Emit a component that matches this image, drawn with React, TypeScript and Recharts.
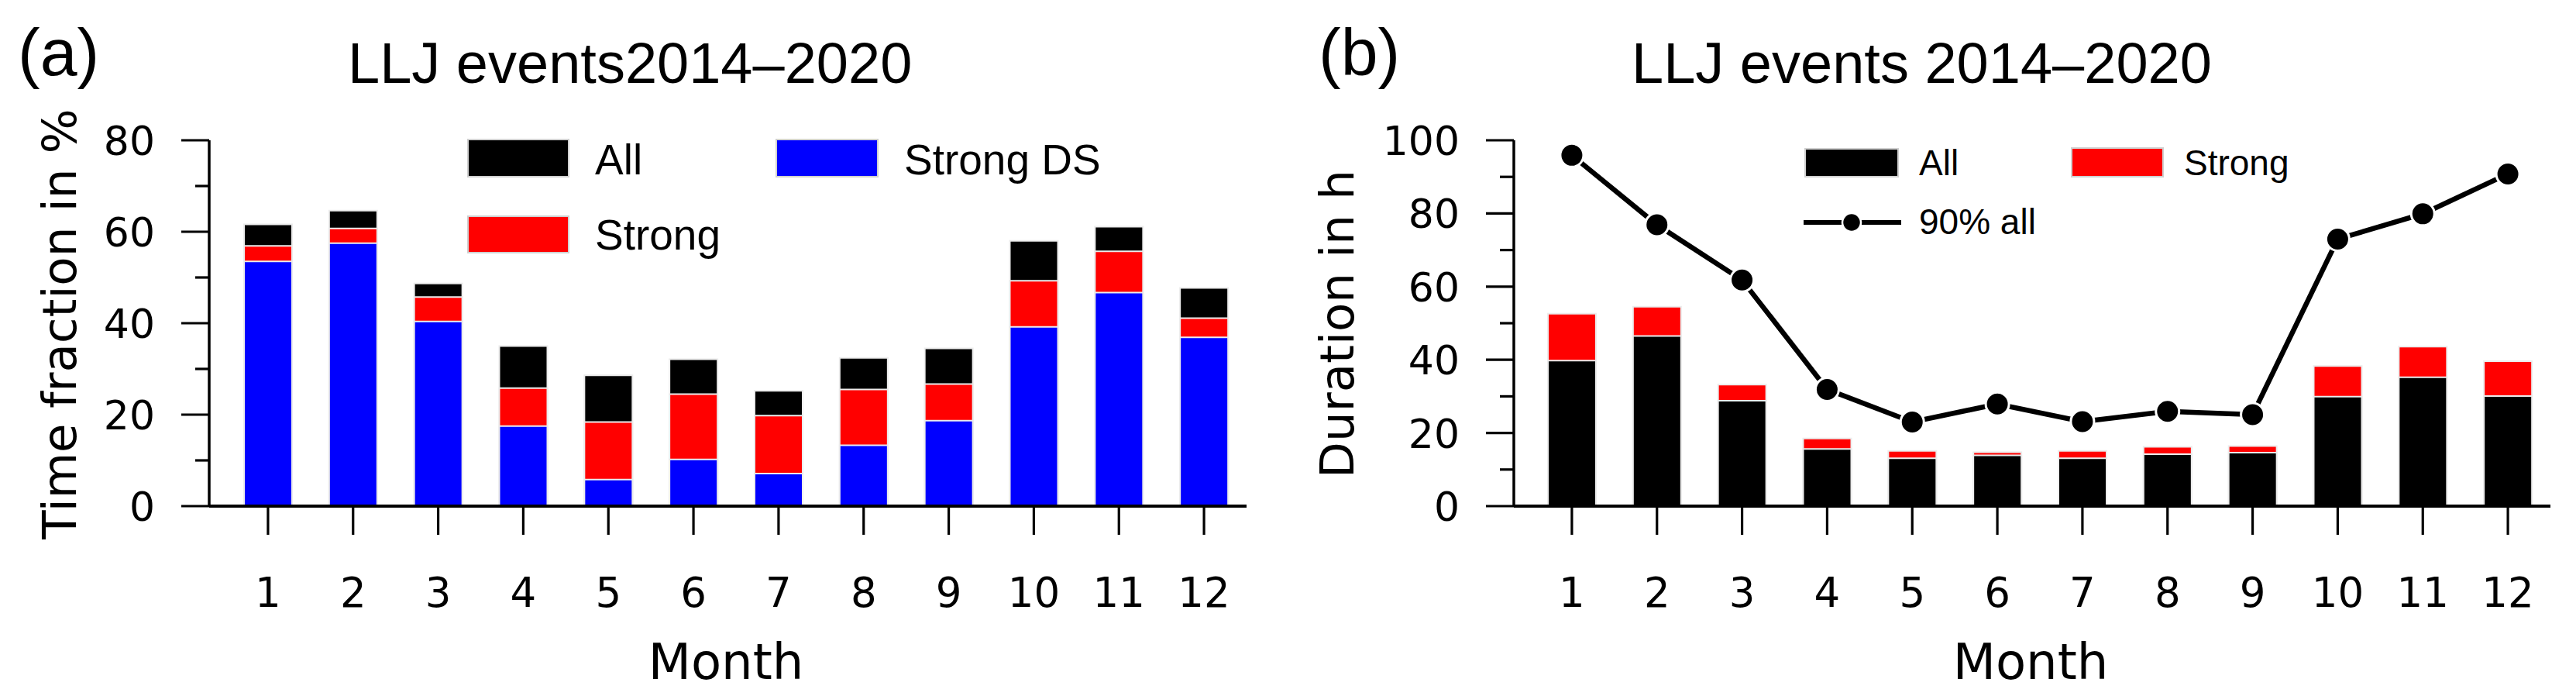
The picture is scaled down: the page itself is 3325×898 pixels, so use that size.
import React from 'react';
import { BarChart, ComposedChart, Bar, Line, XAxis, YAxis, Customized } from 'recharts';

// ---------- data ----------
const months = ['1', '2', '3', '4', '5', '6', '7', '8', '9', '10', '11', '12'];

// Panel (a): time fraction in %
const fracAll = [61.6, 64.6, 48.7, 35.0, 28.6, 32.1, 25.2, 32.4, 34.5, 58.0, 61.1, 47.7];
const fracStrong = [56.9, 60.7, 45.7, 25.8, 18.4, 24.5, 19.8, 25.5, 26.7, 49.3, 55.7, 41.1];
const fracStrongDS = [53.5, 57.5, 40.4, 17.5, 5.8, 10.2, 7.1, 13.3, 18.7, 39.2, 46.7, 36.9];

// Panel (b): duration in h
const durAll = [39.8, 46.5, 28.8, 15.6, 13.1, 13.9, 13.1, 14.2, 14.6, 29.9, 35.2, 30.1];
const durStrong = [52.6, 54.5, 33.2, 18.5, 15.1, 14.7, 15.1, 16.2, 16.4, 38.3, 43.6, 39.6];
const dur90All = [95.9, 76.9, 61.8, 31.9, 23.0, 27.9, 23.1, 25.9, 25.0, 73.0, 79.9, 90.8];

const yTicksA = [0, 10, 20, 30, 40, 50, 60, 70, 80];
const yTicksB = [0, 10, 20, 30, 40, 50, 60, 70, 80, 90, 100];

const dataA = months.map((m, i) => ({
  month: m,
  all: fracAll[i],
  strong: fracStrong[i],
  ds: fracStrongDS[i],
}));
const dataB = months.map((m, i) => ({
  month: m,
  all: durAll[i],
  strong: durStrong[i],
  p90: dur90All[i],
}));

// ---------- styles ----------
const ARIAL = '"Liberation Sans", Arial, sans-serif';
const DEJAVU = '"DejaVu Sans", Verdana, sans-serif';
const BLUE = '#0000ff';
const RED = '#ff0000';
const BLACK = '#000000';
const SEP = '#ececec';

const YTick = (props: any) => {
  const { x, y, payload } = props;
  const v = payload.value;
  const major = v % 20 === 0;
  return (
    <g>
      <line x1={x - (major ? 36 : 18)} y1={y} x2={x} y2={y} stroke="#000" strokeWidth={3.2} />
      {major && (
        <text x={x - 70} y={y} dy={19} textAnchor="end" fontFamily={DEJAVU} fontSize={52} fill="#000">
          {v}
        </text>
      )}
    </g>
  );
};

const XTick = (props: any) => {
  const { x, y, payload } = props;
  return (
    <g>
      <line x1={x} y1={y + 2} x2={x} y2={y + 37} stroke="#000" strokeWidth={3.2} />
      <text x={x} y={y} dy={130} textAnchor="middle" fontFamily={DEJAVU} fontSize={53} fill="#000">
        {payload.value}
      </text>
    </g>
  );
};

const Swatch = ({ x, y, w, h, fill }: any) => (
  <rect x={x} y={y} width={w} height={h} fill={fill} stroke="#d0d0d0" strokeWidth={2} />
);

const DecorA = () => (
  <g>
    <text x={23} y={97} fontFamily={ARIAL} fontSize={86} fill="#000">(a)</text>
    <text x={449} y={107} fontFamily={ARIAL} fontSize={74} fill="#000">LLJ events2014–2020</text>
    <text
      x={98}
      y={418}
      transform="rotate(-90, 98, 418)"
      textAnchor="middle"
      fontFamily={DEJAVU}
      fontSize={61}
      fill="#000"
    >
      Time fraction in %
    </text>
    <text x={937} y={876} textAnchor="middle" fontFamily={DEJAVU} fontSize={64} fill="#000">Month</text>
    <Swatch x={604} y={180} w={130} h={48} fill={BLACK} />
    <text x={768} y={225} fontFamily={ARIAL} fontSize={55} fill="#000">All</text>
    <Swatch x={604} y={279} w={130} h={47} fill={RED} />
    <text x={768} y={322} fontFamily={ARIAL} fontSize={55} fill="#000">Strong</text>
    <Swatch x={1002} y={180} w={131} h={48} fill={BLUE} />
    <text x={1167} y={225} fontFamily={ARIAL} fontSize={55} fill="#000">Strong DS</text>
  </g>
);

const DecorB = () => (
  <g>
    <text x={42} y={97} fontFamily={ARIAL} fontSize={86} fill="#000">(b)</text>
    <text x={446} y={107} fontFamily={ARIAL} fontSize={74} fill="#000">LLJ events 2014–2020</text>
    <text
      x={87}
      y={418}
      transform="rotate(-90, 87, 418)"
      textAnchor="middle"
      fontFamily={DEJAVU}
      fontSize={61}
      fill="#000"
    >
      Duration in h
    </text>
    <text x={961} y={876} textAnchor="middle" fontFamily={DEJAVU} fontSize={64} fill="#000">Month</text>
    <Swatch x={670} y={192} w={120} h={36} fill={BLACK} />
    <text x={817} y={226} fontFamily={ARIAL} fontSize={46} fill="#000">All</text>
    <Swatch x={1014} y={191} w={118} h={37} fill={RED} />
    <text x={1159} y={226} fontFamily={ARIAL} fontSize={46} fill="#000">Strong</text>
    <line x1={668} y1={287} x2={794} y2={287} stroke="#000" strokeWidth={6} />
    <circle cx={730} cy={287} r={12} fill="#000" stroke="#fff" strokeWidth={2.5} />
    <text x={817} y={302} fontFamily={ARIAL} fontSize={46} fill="#000">90% all</text>
  </g>
);

export default function App() {
  return (
    <div
      style={{
        position: 'absolute',
        left: 0,
        top: 0,
        width: 3325,
        height: 898,
        background: '#fff',
        overflow: 'hidden',
      }}
    >
      <div style={{ position: 'absolute', left: 0, top: 0 }}>
        <BarChart
          width={1660}
          height={898}
          data={dataA}
          margin={{ top: 181, right: 51, bottom: 215, left: 210 }}
          barSize={62}
          barGap={-62}
        >
          <XAxis
            dataKey="month"
            height={30}
            padding={{ left: 21, right: 0 }}
            interval={0}
            tickLine={false}
            tickSize={0}
            tickMargin={0}
            tick={<XTick />}
            axisLine={{ stroke: '#000', strokeWidth: 4 }}
          />
          <YAxis
            width={60}
            domain={[0, 80]}
            ticks={yTicksA}
            interval={0}
            tickLine={false}
            tickSize={0}
            tickMargin={0}
            tick={<YTick />}
            axisLine={{ stroke: '#000', strokeWidth: 3.5 }}
          />
          <Bar dataKey="all" fill={BLACK} stroke={SEP} strokeWidth={2} isAnimationActive={false} />
          <Bar dataKey="strong" fill={RED} stroke={SEP} strokeWidth={2} isAnimationActive={false} />
          <Bar dataKey="ds" fill={BLUE} stroke={SEP} strokeWidth={2} isAnimationActive={false} />
          <Customized component={DecorA} />
        </BarChart>
      </div>
      <div style={{ position: 'absolute', left: 1660, top: 0 }}>
        <ComposedChart
          width={1665}
          height={898}
          data={dataB}
          margin={{ top: 181, right: 33, bottom: 215, left: 234 }}
          barSize={62}
          barGap={-62}
        >
          <XAxis
            dataKey="month"
            height={30}
            padding={{ left: 20, right: 0 }}
            interval={0}
            tickLine={false}
            tickSize={0}
            tickMargin={0}
            tick={<XTick />}
            axisLine={{ stroke: '#000', strokeWidth: 4 }}
          />
          <YAxis
            width={60}
            domain={[0, 100]}
            ticks={yTicksB}
            interval={0}
            tickLine={false}
            tickSize={0}
            tickMargin={0}
            tick={<YTick />}
            axisLine={{ stroke: '#000', strokeWidth: 3.5 }}
          />
          <Bar dataKey="strong" fill={RED} stroke={SEP} strokeWidth={2} isAnimationActive={false} />
          <Bar dataKey="all" fill={BLACK} stroke={SEP} strokeWidth={2} isAnimationActive={false} />
          <Line
            dataKey="p90"
            type="linear"
            stroke="#000"
            strokeWidth={6.5}
            dot={{ r: 15, fill: '#000', stroke: '#fff', strokeWidth: 3 }}
            activeDot={false}
            isAnimationActive={false}
          />
          <Customized component={DecorB} />
        </ComposedChart>
      </div>
    </div>
  );
}
